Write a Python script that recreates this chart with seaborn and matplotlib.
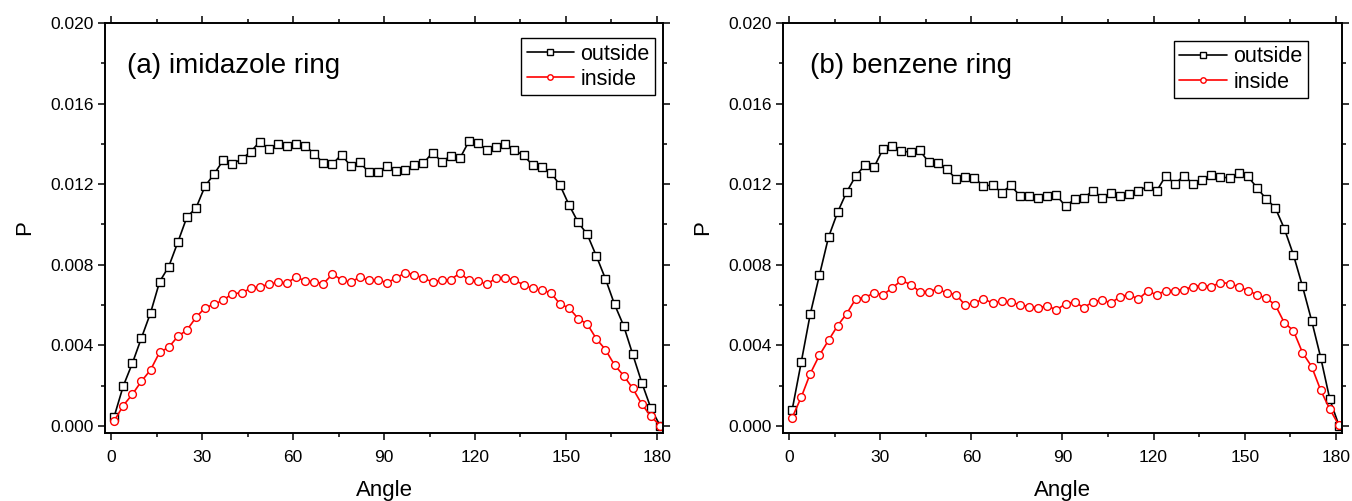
import numpy as np
import pandas as pd
import seaborn as sns
import matplotlib.pyplot as plt
from matplotlib.ticker import MultipleLocator

angles = list(range(1, 182, 3))

imid_outside = [0.00046, 0.00198, 0.00311, 0.00437, 0.00561, 0.00716, 0.00791, 0.00912, 0.01037, 0.01082,
                0.01191, 0.01251, 0.01320, 0.01300, 0.01325, 0.01360, 0.01411, 0.01375, 0.01400, 0.01390,
                0.01398, 0.01390, 0.01351, 0.01304, 0.01300, 0.01347, 0.01289, 0.01309, 0.01259, 0.01259,
                0.01290, 0.01266, 0.01270, 0.01294, 0.01304, 0.01357, 0.01312, 0.01340, 0.01328, 0.01413,
                0.01403, 0.01370, 0.01385, 0.01401, 0.01368, 0.01343, 0.01295, 0.01284, 0.01257, 0.01196,
                0.01097, 0.01011, 0.00951, 0.00844, 0.00731, 0.00604, 0.00498, 0.00356, 0.00215, 0.00088,
                0.00002]
imid_inside = [0.00025, 0.00101, 0.00157, 0.00222, 0.00278, 0.00366, 0.00390, 0.00445, 0.00476, 0.00539,
               0.00587, 0.00604, 0.00625, 0.00657, 0.00660, 0.00683, 0.00691, 0.00703, 0.00713, 0.00710,
               0.00739, 0.00720, 0.00716, 0.00706, 0.00754, 0.00725, 0.00713, 0.00739, 0.00723, 0.00725,
               0.00711, 0.00734, 0.00761, 0.00751, 0.00733, 0.00715, 0.00723, 0.00726, 0.00759, 0.00723,
               0.00718, 0.00703, 0.00736, 0.00736, 0.00723, 0.00701, 0.00683, 0.00673, 0.00662, 0.00605,
               0.00586, 0.00533, 0.00506, 0.00433, 0.00379, 0.00303, 0.00250, 0.00187, 0.00108, 0.00048,
               0.00002]
benz_outside = [0.00077, 0.00315, 0.00556, 0.00748, 0.00937, 0.01061, 0.01162, 0.01242, 0.01294, 0.01285,
                0.01376, 0.01390, 0.01363, 0.01360, 0.01368, 0.01309, 0.01304, 0.01274, 0.01225, 0.01234,
                0.01231, 0.01191, 0.01196, 0.01158, 0.01194, 0.01142, 0.01142, 0.01130, 0.01143, 0.01146,
                0.01090, 0.01126, 0.01131, 0.01168, 0.01133, 0.01158, 0.01142, 0.01153, 0.01164, 0.01191,
                0.01166, 0.01242, 0.01201, 0.01242, 0.01201, 0.01220, 0.01244, 0.01234, 0.01232, 0.01257,
                0.01239, 0.01183, 0.01127, 0.01084, 0.00980, 0.00850, 0.00693, 0.00523, 0.00339, 0.00132,
                0.00002]
benz_inside = [0.00040, 0.00142, 0.00260, 0.00351, 0.00425, 0.00498, 0.00558, 0.00632, 0.00637, 0.00661,
               0.00651, 0.00686, 0.00722, 0.00702, 0.00667, 0.00667, 0.00680, 0.00659, 0.00652, 0.00599,
               0.00609, 0.00632, 0.00609, 0.00619, 0.00614, 0.00602, 0.00592, 0.00587, 0.00596, 0.00576,
               0.00606, 0.00616, 0.00587, 0.00616, 0.00625, 0.00611, 0.00642, 0.00652, 0.00629, 0.00670,
               0.00651, 0.00672, 0.00672, 0.00677, 0.00692, 0.00697, 0.00692, 0.00712, 0.00707, 0.00691,
               0.00672, 0.00652, 0.00634, 0.00602, 0.00513, 0.00473, 0.00364, 0.00295, 0.00177, 0.00083,
               0.00003]

panel_titles = ["(a) imidazole ring", "(b) benzene ring"]
series_names = ["outside", "inside"]
x_ticks = [0, 30, 60, 90, 120, 150, 180]
y_ticks = [0.000, 0.004, 0.008, 0.012, 0.016, 0.020]

sns.set_theme(style="ticks")
plt.rcParams['font.family'] = ['Liberation Sans', 'DejaVu Sans']
plt.rcParams['text.color'] = 'black'
plt.rcParams['axes.labelcolor'] = 'black'

fig = plt.figure(figsize=(13.52, 5.01), dpi=100)
ax_a = fig.add_axes([0.0777, 0.1357, 0.4127, 0.8184])
ax_b = fig.add_axes([0.5791, 0.1357, 0.4135, 0.8184])

panels = [(ax_a, imid_outside, imid_inside, panel_titles[0], 0.039, (0.986, 0.963)),
          (ax_b, benz_outside, benz_inside, panel_titles[1], 0.048, (0.939, 0.956))]

for ax, outside, inside, title, tx, leg_anchor in panels:
    sns.lineplot(x=angles, y=outside, ax=ax, color='black', marker='s', markersize=5.2,
                 markerfacecolor='white', markeredgecolor='black', markeredgewidth=1.0,
                 linewidth=1.2, label=series_names[0])
    sns.lineplot(x=angles, y=inside, ax=ax, color='red', marker='o', markersize=5.6,
                 markerfacecolor='white', markeredgecolor='red', markeredgewidth=1.0,
                 linewidth=1.2, label=series_names[1])
    ax.set_xlim(-2, 182)
    ax.set_ylim(-0.00035, 0.020)
    ax.set_xticks(x_ticks)
    ax.set_yticks(y_ticks)
    ax.set_yticklabels([f"{v:.3f}" for v in y_ticks])
    ax.xaxis.set_minor_locator(MultipleLocator(15))
    ax.yaxis.set_minor_locator(MultipleLocator(0.002))
    ax.tick_params(which='both', direction='out', top=True, right=True, labeltop=False,
                   labelright=False, colors='black', labelsize=12.5, width=1.1, pad=3)
    ax.tick_params(axis='x', which='both', pad=7)
    ax.tick_params(which='major', length=5)
    ax.tick_params(which='minor', length=3)
    for sp in ax.spines.values():
        sp.set_visible(True)
        sp.set_linewidth(1.4)
        sp.set_color('black')
    ax.set_xlabel("Angle", fontsize=16, labelpad=11)
    ax.set_ylabel("P", fontsize=16, labelpad=11)
    ax.text(tx, 0.895, title, transform=ax.transAxes, fontsize=20, va='center', ha='left')
    leg = ax.legend(loc='upper right', bbox_to_anchor=leg_anchor, fontsize=15.5, frameon=True,
                    fancybox=False, edgecolor='black', framealpha=1, handlelength=2.2,
                    handletextpad=0.3, borderpad=0.25, labelspacing=0.2, borderaxespad=0.0,
                    markerscale=0.7)
    leg.get_frame().set_linewidth(1.0)

fig.savefig("out.png", dpi=100)
